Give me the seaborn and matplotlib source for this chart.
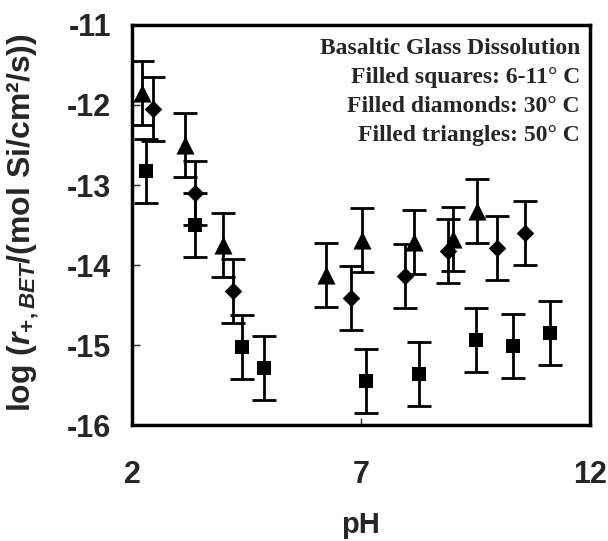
import matplotlib
matplotlib.use("Agg")
import matplotlib.pyplot as plt
import seaborn as sns
import pandas as pd

# ---- data ----
ph_squares = [2.31, 3.38, 4.40, 4.88, 7.10, 8.26, 9.50, 10.32, 11.12]
logr_squares = [-12.83, -13.50, -15.03, -15.29, -15.45, -15.36, -14.94, -15.01, -14.85]

ph_diamonds = [2.46, 3.37, 4.21, 6.78, 7.95, 8.89, 9.97, 10.57]
logr_diamonds = [-12.05, -13.10, -14.32, -14.41, -14.14, -13.83, -13.79, -13.60]

ph_triangles = [2.21, 3.15, 3.99, 6.24, 7.02, 8.16, 9.01, 9.54]
logr_triangles = [-11.85, -12.50, -13.75, -14.12, -13.69, -13.71, -13.67, -13.33]

err = 0.4
series_names = ["6-11° C", "30° C", "50° C"]
x_ticks = [2, 7, 12]
y_ticks = [-11, -12, -13, -14, -15, -16]
legend_lines = ["Basaltic Glass Dissolution",
                "Filled squares: 6-11° C",
                "Filled diamonds: 30° C",
                "Filled triangles: 50° C"]

frames = {
    series_names[0]: pd.DataFrame({"pH": ph_squares, "logr": logr_squares}),
    series_names[1]: pd.DataFrame({"pH": ph_diamonds, "logr": logr_diamonds}),
    series_names[2]: pd.DataFrame({"pH": ph_triangles, "logr": logr_triangles}),
}
marker_of = {series_names[0]: "s", series_names[1]: "D", series_names[2]: "^"}
size_of = {series_names[0]: 105, series_names[1]: 80, series_names[2]: 170}

sns.set_style("white")
plt.rcParams["font.family"] = ["Liberation Sans", "DejaVu Sans"]
plt.rcParams["mathtext.fontset"] = "custom"
plt.rcParams["mathtext.rm"] = "Liberation Sans:bold"
plt.rcParams["mathtext.it"] = "Liberation Sans:bold:italic"
plt.rcParams["mathtext.bf"] = "Liberation Sans:bold"

fig = plt.figure(figsize=(6.08, 5.41), dpi=100)
ax = fig.add_axes([0.2171, 0.2144, 0.9704 - 0.2171, 0.9538 - 0.2144])

for name, d in frames.items():
    ax.errorbar(d["pH"], d["logr"], yerr=err, fmt="none", ecolor="black",
                elinewidth=2.0, capsize=8.5, capthick=2.0, zorder=2)
    sns.scatterplot(data=d, x="pH", y="logr", marker=marker_of[name],
                    s=size_of[name], color="black", edgecolor="black",
                    linewidth=0, legend=False, ax=ax, zorder=3)

ax.set_xlim(2, 12)
ax.set_ylim(-16, -11)
ax.set_xticks(x_ticks)
ax.set_yticks(y_ticks)
ax.set_xticklabels([str(t) for t in x_ticks], fontsize=22, fontweight="bold")
ax.set_yticklabels([str(t) for t in y_ticks], fontsize=22, fontweight="bold")
ax.tick_params(axis="x", direction="in", length=5, width=1, pad=25, bottom=True)
ax.tick_params(axis="y", direction="in", length=6, width=1, pad=15, left=True)

for sp in ax.spines.values():
    sp.set_linewidth(2.5)
    sp.set_color("black")

ax.set_xlabel("pH", fontsize=21, fontweight="bold")
ax.xaxis.set_label_coords(0.5, -0.215)
ax.set_ylabel(r"log ($r_{+,BET}$/(mol Si/cm²/s))", fontsize=23,
              fontweight="bold")
ax.yaxis.set_label_coords(-0.198, 0.507)

for i, line in enumerate(legend_lines):
    ax.text(0.978, 0.94 - i * 0.072, line, transform=ax.transAxes,
            ha="right", va="center", fontsize=17, fontweight="bold",
            family="Liberation Serif")

fig.savefig("out.png", dpi=100)
